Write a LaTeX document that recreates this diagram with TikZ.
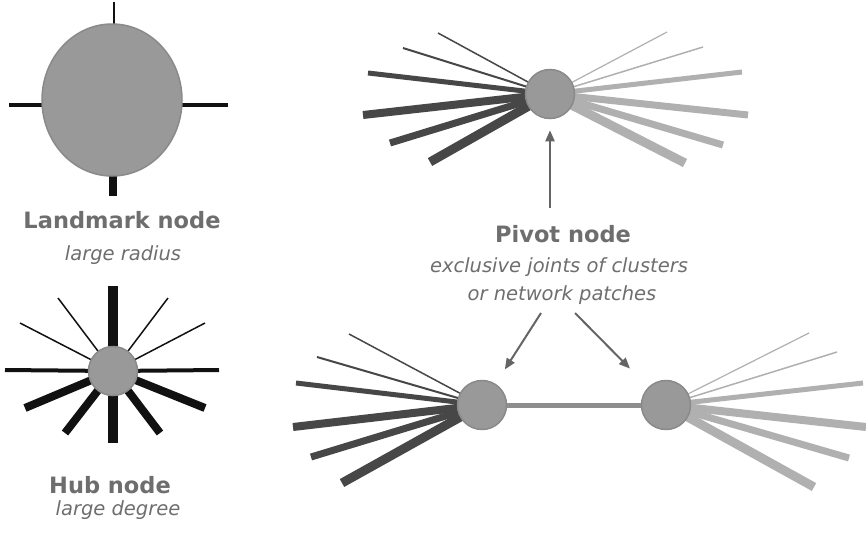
\documentclass[tikz,border=0pt]{standalone}
\usepackage{fontspec}
\setmainfont{DejaVu Sans}
\usetikzlibrary{arrows.meta,shapes.geometric}
\definecolor{nodegray}{HTML}{999999}
\definecolor{nodeborder}{HTML}{8A8A8A}
\definecolor{darkedge}{HTML}{474747}
\definecolor{lightedge}{HTML}{B0B0B0}
\definecolor{midedge}{HTML}{8E8E8E}
\definecolor{textgray}{HTML}{6E6E6E}
\definecolor{arrowgray}{HTML}{656565}
\definecolor{blackedge}{HTML}{111111}
\begin{document}
\begin{tikzpicture}[x=1pt,y=-1pt,
 vert/.style={circle,fill=nodegray,draw=nodeborder,line width=1.5pt,minimum size=49pt,inner sep=0pt},
 title/.style={anchor=base,text=textgray,font=\fontsize{22.5}{26}\selectfont\bfseries},
 sub/.style={anchor=base,text=textgray,font=\fontsize{19.5}{23}\selectfont\itshape},
 arr/.style={draw=arrowgray,line width=2pt,-{Triangle[length=11pt,width=9pt]}},
]
\useasboundingbox[fill=white] (0,0) rectangle (866,536);

% Landmark node
\coordinate (lmc) at (112,100);
\coordinate (lmt) at (114,100);
\coordinate (lmh) at (112,105);
\coordinate (lmb) at (113,100);
\draw[blackedge,line width=1.5pt] (lmt) -- (114,2);
\draw[blackedge,line width=3.5pt] (lmh) -- (9,105);
\draw[blackedge,line width=3.5pt] (lmh) -- (228,105);
\draw[blackedge,line width=8pt] (lmb) -- (113,196);
\node[ellipse,fill=nodegray,draw=nodeborder,line width=1.5pt,minimum width=140pt,minimum height=152pt,inner sep=0pt] (lm) at (lmc) {};

% Hub node
\coordinate (hubc) at (113,371);
\foreach \x/\y/\w in {113/286/10, 113/443/10, 5/370/4, 219/370/4, 58/298/1.5, 20/323/1.5, 168/298/1.5, 205/323/1.5, 25/408/8, 65/433/8, 205/408/8, 160/433/8}
  \draw[blackedge,line width=\w pt] (hubc) -- (\x,\y);
\node[vert] (hub) at (hubc) {};

% Top pivot node
\coordinate (ptc) at (550,94);
\foreach \x/\y/\w in {438/33/1.5, 403/48/2, 368/73/5, 363/115/8, 390/143/7, 430/162/9}
  \draw[darkedge,line width=\w pt] (ptc) -- (\x,\y);
\foreach \x/\y/\w in {667/32/1.2, 703/47/1.5, 742/72/5, 748/115/7, 723/145/7, 685/163/9}
  \draw[lightedge,line width=\w pt] (ptc) -- (\x,\y);
\node[vert] (pt) at (ptc) {};

% Bottom pivot pair
\coordinate (blc) at (482,405);
\coordinate (brc) at (666,405);
\foreach \x/\y/\w in {349/334/1.5, 317/357/2, 296/383/5, 293/427/8, 311/457/7, 342/483/9}
  \draw[darkedge,line width=\w pt] (blc) -- (\x,\y);
\foreach \x/\y/\w in {809/333/1.2, 837/352/1.5, 863/383/5, 866/427/8, 849/458/7, 814/487/9}
  \draw[lightedge,line width=\w pt] (brc) -- (\x,\y);
\draw[midedge,line width=5pt] (blc) -- (brc);
\node[vert] (bl) at (blc) {};
\node[vert] (br) at (brc) {};

% Texts
\node[title] (lmT) at (122,228) {Landmark node};
\node[sub] (lmS) at (123,260) {large radius};
\node[title] (hubT) at (110,493) {Hub node};
\node[sub] (hubS) at (118,515) {large degree};
\node[title] (pvT) at (563,242) {Pivot node};
\node[sub] (pvS1) at (559,272) {exclusive joints of clusters};
\node[sub] (pvS2) at (562,300) {or network patches};

% Arrows
\coordinate (a0) at (550,208);
\coordinate (a1) at (541,313);
\coordinate (a2) at (575,313);
\draw[arr,shorten >=11pt] (a0) -- (pt);
\draw[arr,shorten >=17pt] (a1) -- (bl);
\draw[arr,shorten >=26pt] (a2) -- (br);
\end{tikzpicture}
\end{document}
